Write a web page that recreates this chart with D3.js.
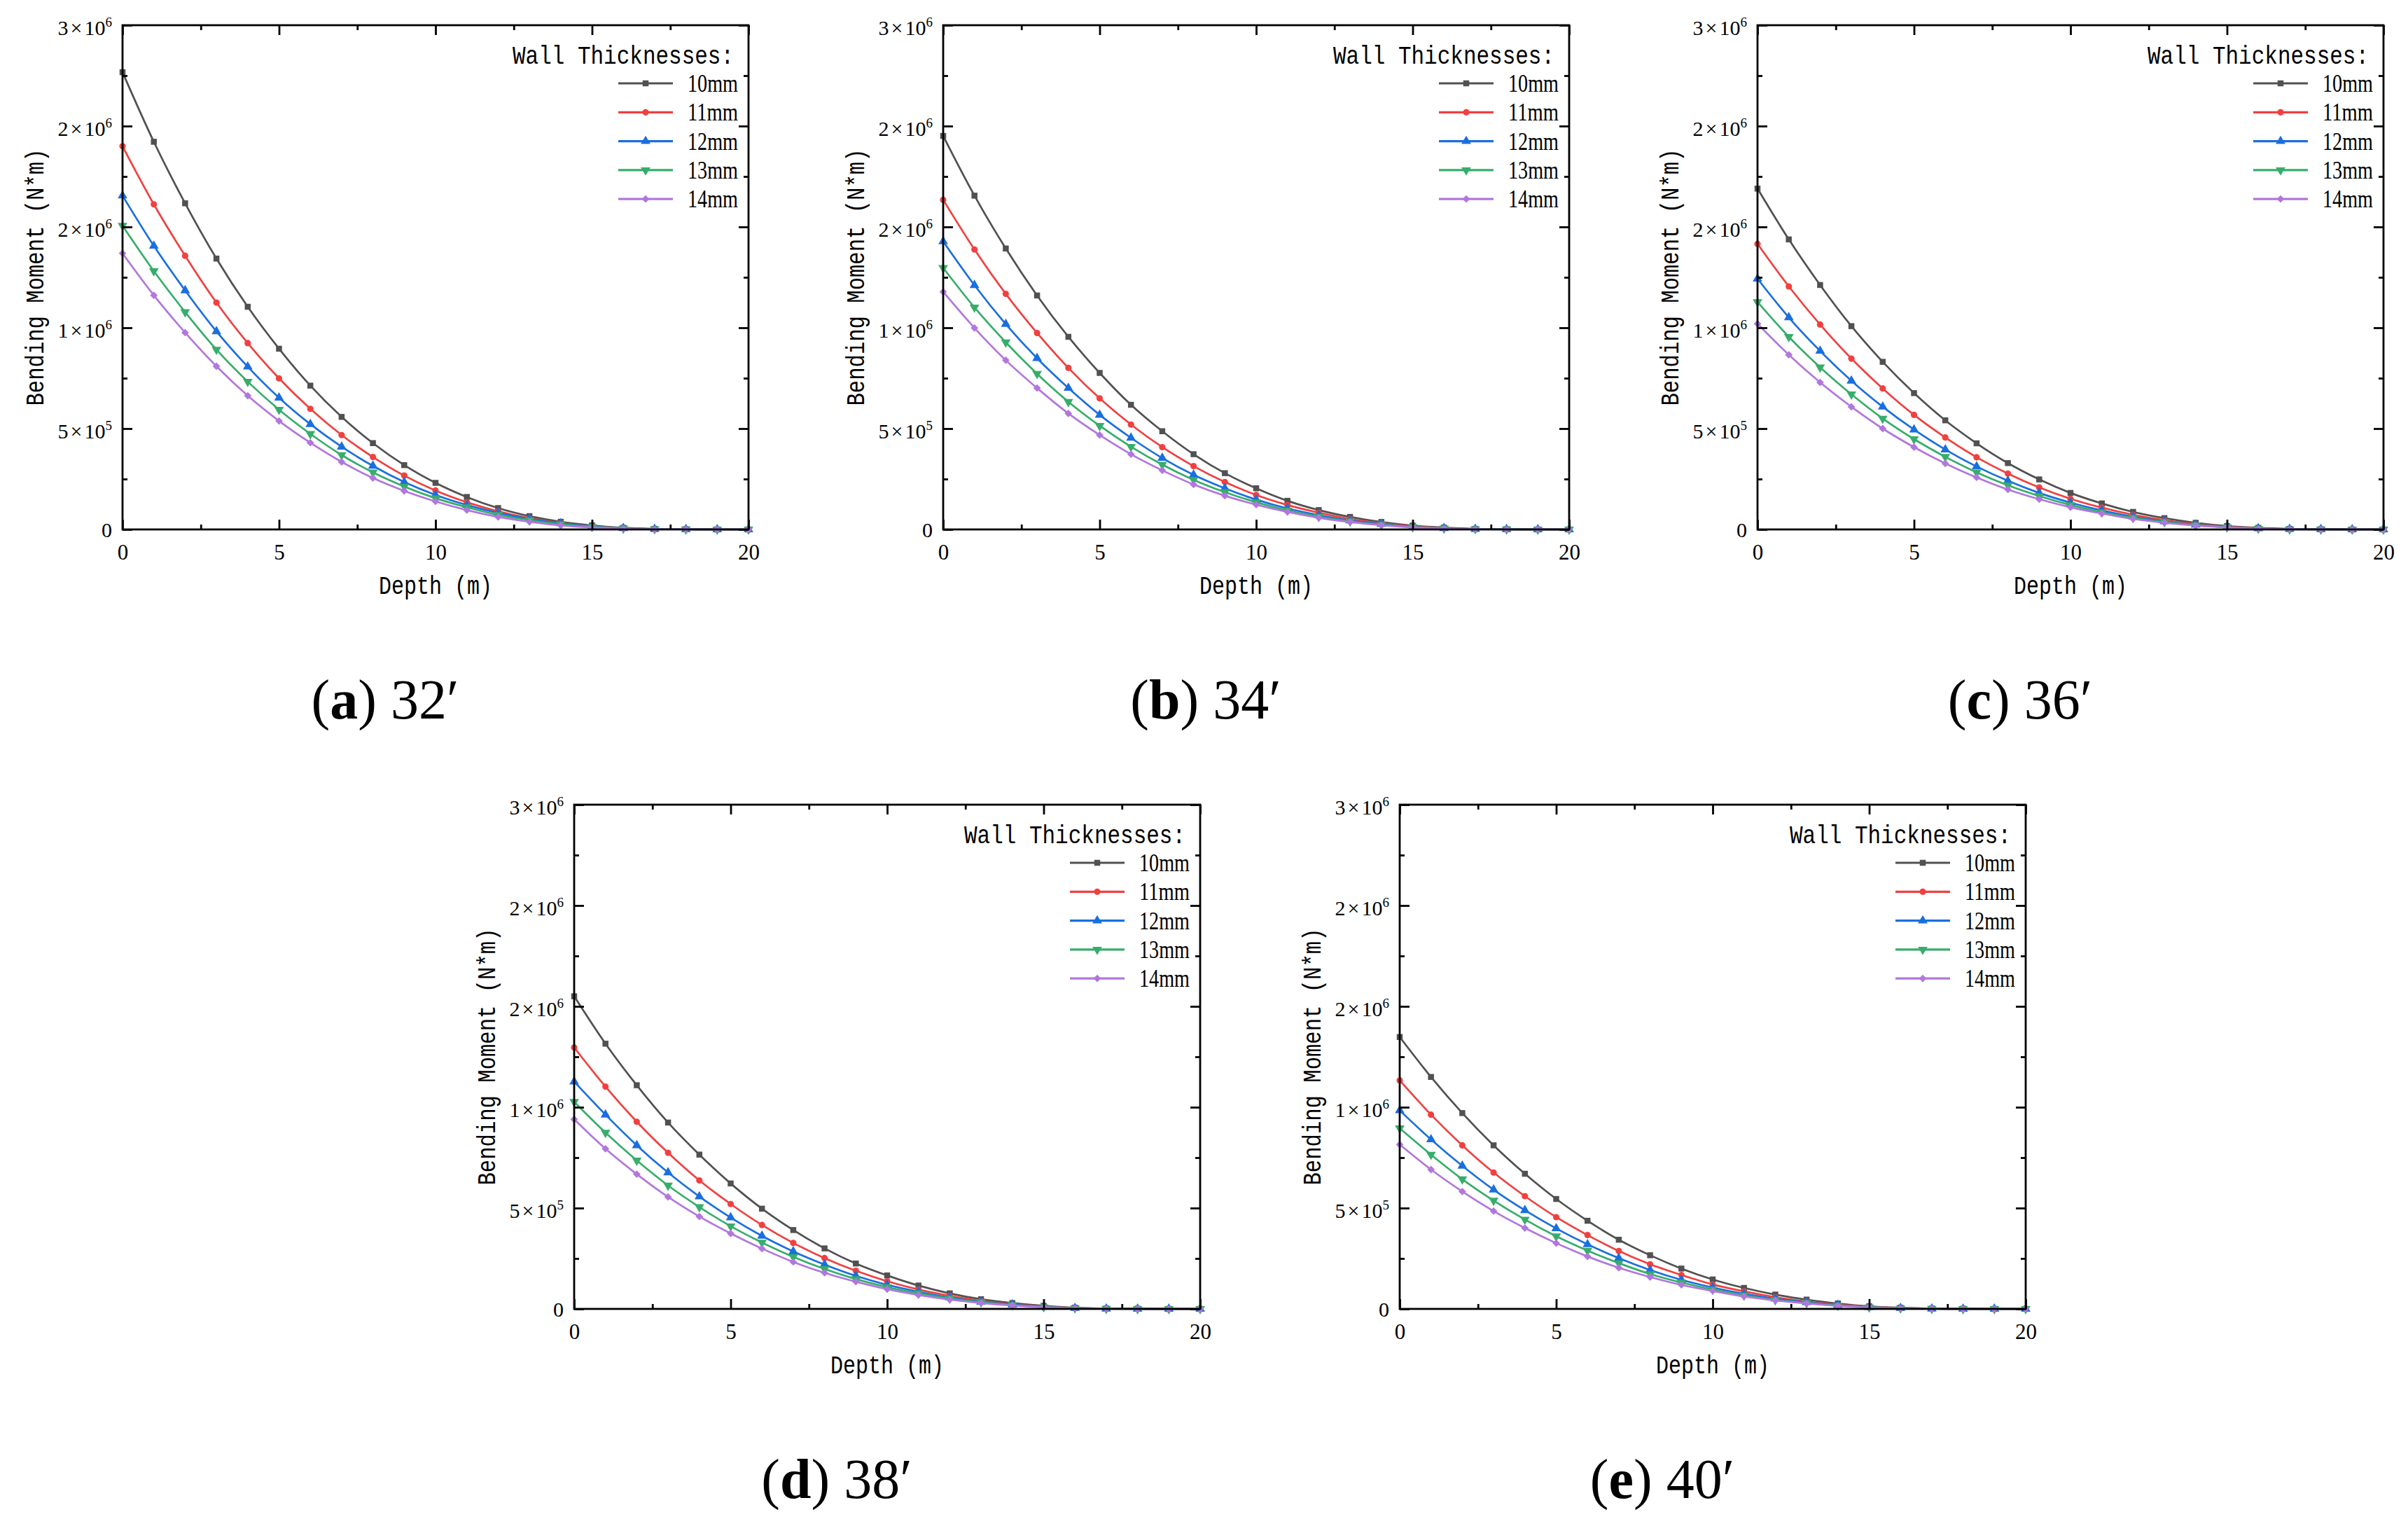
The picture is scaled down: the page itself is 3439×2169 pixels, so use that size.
<!DOCTYPE html>
<meta charset="utf-8">
<script src="https://cdn.jsdelivr.net/npm/d3@7"></script>
<style>
body { margin: 0; background: #fff; }
.mono { font-family: "Liberation Mono", monospace; }
.serif { font-family: "Liberation Serif", serif; }
</style>
<body>
<script>

var W = 3439, H = 2169;
var PW = 894, PH = 720;

// depth along pile (m)
var depths = [0,1,2,3,4,5,6,7,8,9,10,11,12,13,14,15,16,17,18,19,20];

var thickness = ["10mm", "11mm", "12mm", "13mm", "14mm"];
var colors = ["#515151", "#F14040", "#1A6FDF", "#37AD6B", "#B177DE"];

// bending moment, in units of 10^6 N*m, one row per wall thickness
var m32 = [
  [2.267,1.922,1.617,1.343,1.104,0.896,0.713,0.558,0.428,0.319,0.231,0.161,0.106,0.066,0.038,0.020,0.008,0.003,0.001,0,0],
  [1.900,1.612,1.357,1.125,0.924,0.749,0.598,0.468,0.359,0.267,0.193,0.135,0.090,0.056,0.032,0.016,0.007,0.002,0.001,0,0],
  [1.655,1.406,1.185,0.982,0.807,0.653,0.522,0.410,0.315,0.235,0.171,0.121,0.082,0.052,0.030,0.015,0.006,0.002,0.001,0,0],
  [1.506,1.281,1.078,0.892,0.733,0.594,0.474,0.369,0.283,0.213,0.155,0.110,0.072,0.046,0.026,0.013,0.005,0.002,0.001,0,0],
  [1.369,1.161,0.976,0.809,0.663,0.538,0.430,0.335,0.255,0.191,0.139,0.096,0.062,0.038,0.020,0.010,0.004,0.001,0.001,0,0]
];
var m34 = [
  [1.951,1.655,1.393,1.160,0.955,0.776,0.618,0.487,0.373,0.279,0.204,0.142,0.096,0.062,0.037,0.019,0.009,0.003,0.001,0,0],
  [1.634,1.388,1.168,0.974,0.801,0.650,0.520,0.408,0.314,0.235,0.171,0.121,0.083,0.052,0.031,0.016,0.007,0.002,0.001,0,0],
  [1.428,1.211,1.018,0.849,0.701,0.568,0.454,0.354,0.271,0.204,0.148,0.104,0.071,0.044,0.027,0.013,0.006,0.002,0.001,0,0],
  [1.297,1.101,0.928,0.772,0.633,0.514,0.410,0.321,0.246,0.185,0.135,0.094,0.063,0.040,0.023,0.012,0.005,0.002,0.001,0,0],
  [1.178,0.999,0.839,0.701,0.575,0.468,0.373,0.293,0.223,0.167,0.123,0.087,0.058,0.037,0.021,0.010,0.004,0.001,0,0,0]
];
var m36 = [
  [1.690,1.438,1.212,1.008,0.831,0.676,0.541,0.427,0.329,0.248,0.181,0.129,0.087,0.056,0.033,0.017,0.008,0.003,0.001,0,0],
  [1.416,1.205,1.016,0.847,0.699,0.568,0.456,0.358,0.277,0.208,0.152,0.108,0.073,0.046,0.027,0.014,0.006,0.002,0.001,0,0],
  [1.243,1.051,0.885,0.737,0.608,0.495,0.396,0.312,0.241,0.181,0.133,0.094,0.063,0.040,0.023,0.012,0.005,0.002,0.001,0,0],
  [1.128,0.955,0.804,0.670,0.550,0.448,0.360,0.283,0.219,0.166,0.121,0.085,0.058,0.037,0.021,0.011,0.004,0.001,0,0,0],
  [1.020,0.866,0.729,0.608,0.500,0.408,0.327,0.258,0.198,0.150,0.110,0.079,0.052,0.033,0.019,0.010,0.004,0.001,0,0,0]
];
var m38 = [
  [1.550,1.315,1.109,0.924,0.765,0.622,0.497,0.391,0.300,0.225,0.166,0.116,0.077,0.048,0.029,0.015,0.006,0.002,0.001,0,0],
  [1.296,1.102,0.928,0.774,0.637,0.520,0.416,0.327,0.252,0.189,0.137,0.096,0.065,0.040,0.023,0.012,0.005,0.002,0.001,0,0],
  [1.127,0.963,0.811,0.676,0.557,0.453,0.362,0.285,0.220,0.164,0.119,0.085,0.056,0.035,0.021,0.010,0.004,0.001,0,0,0],
  [1.027,0.874,0.736,0.612,0.505,0.410,0.329,0.258,0.198,0.148,0.108,0.077,0.052,0.033,0.019,0.009,0.004,0.001,0,0,0],
  [0.940,0.794,0.668,0.555,0.458,0.374,0.299,0.233,0.179,0.135,0.098,0.069,0.046,0.029,0.017,0.008,0.003,0.001,0,0,0]
];
var m40 = [
  [1.348,1.150,0.971,0.811,0.670,0.545,0.437,0.343,0.266,0.200,0.146,0.104,0.071,0.046,0.027,0.013,0.006,0.002,0.001,0,0],
  [1.133,0.963,0.811,0.676,0.559,0.455,0.366,0.287,0.221,0.168,0.121,0.087,0.058,0.037,0.021,0.011,0.005,0.002,0,0,0],
  [0.984,0.840,0.709,0.591,0.489,0.399,0.320,0.252,0.193,0.144,0.106,0.075,0.050,0.033,0.019,0.009,0.004,0.001,0,0,0],
  [0.896,0.765,0.643,0.537,0.443,0.360,0.289,0.227,0.173,0.131,0.096,0.067,0.044,0.029,0.016,0.008,0.003,0.001,0,0,0],
  [0.815,0.691,0.582,0.485,0.401,0.326,0.260,0.204,0.158,0.119,0.089,0.062,0.042,0.027,0.015,0.007,0.003,0.001,0,0,0]
];

// axis ticks and the labels as printed (Origin rounds 1.5 and 2.5 x10^6)
var xTicks = [0, 5, 10, 15, 20];
var xMinor = [2.5, 7.5, 12.5, 17.5];
var yTicks = [0, 0.5, 1.0, 1.5, 2.0, 2.5];
var yMinor = [0.25, 0.75, 1.25, 1.75, 2.25];
var yTickMant = ["0", "5", "1", "2", "2", "3"];
var yTickExp  = ["",  "5", "6", "6", "6", "6"];

var panels = [
  {letter: "a", angle: "32", data: m32, left: 175,  top: 36},
  {letter: "b", angle: "34", data: m34, left: 1347, top: 36},
  {letter: "c", angle: "36", data: m36, left: 2510, top: 36},
  {letter: "d", angle: "38", data: m38, left: 820,  top: 1149},
  {letter: "e", angle: "40", data: m40, left: 1999, top: 1149}
];

var symbols = [
  {type: d3.symbolSquare, size: 72, rot: 0},
  {type: d3.symbolCircle, size: 66, rot: 0},
  {type: d3.symbolTriangle, size: 82, rot: 0},
  {type: d3.symbolTriangle, size: 82, rot: 180},
  {type: d3.symbolSquare, size: 58, rot: 45}
];

var svg = d3.select("body").append("svg")
    .attr("width", W)
    .attr("height", H);

svg.append("rect").attr("width", W).attr("height", H).attr("fill", "#fff");

function styleAxis(sel) {
  sel.select(".domain").remove();
  sel.selectAll("line").attr("stroke", "#000").attr("stroke-width", 2.8);
}

panels.forEach(function(p) {
  var g = svg.append("g").attr("transform", "translate(" + p.left + "," + p.top + ")");

  var x = d3.scaleLinear().domain([0, 20]).range([0, PW]);
  var y = d3.scaleLinear().domain([0, 2.5]).range([PH, 0]);

  var line = d3.line()
      .x(function(d) { return x(d[0]); })
      .y(function(d) { return y(d[1]); })
      .curve(d3.curveMonotoneX);

  p.data.forEach(function(vals, i) {
    var pts = depths.map(function(d, j) { return [d, vals[j]]; });
    g.append("path")
        .datum(pts)
        .attr("d", line)
        .attr("fill", "none")
        .attr("stroke", colors[i])
        .attr("stroke-width", 2.7);
    g.selectAll(null)
        .data(pts)
      .enter().append("path")
        .attr("d", d3.symbol().type(symbols[i].type).size(symbols[i].size))
        .attr("transform", function(d) {
          return "translate(" + x(d[0]) + "," + y(d[1]) + ") rotate(" + symbols[i].rot + ")";
        })
        .attr("fill", colors[i]);
  });

  // ticks on all four sides, pointing inward
  g.append("g").attr("transform", "translate(0," + PH + ")")
      .call(d3.axisBottom(x).tickValues(xTicks).tickSizeInner(-14).tickSizeOuter(0).tickPadding(21))
      .call(styleAxis)
      .selectAll("text")
        .attr("class", "serif")
        .attr("font-size", 31)
        .attr("fill", "#000");
  g.append("g").attr("transform", "translate(0," + PH + ")")
      .call(d3.axisBottom(x).tickValues(xMinor).tickSizeInner(-7).tickSizeOuter(0).tickFormat(""))
      .call(styleAxis);
  g.append("g")
      .call(d3.axisTop(x).tickValues(xTicks).tickSizeInner(-14).tickSizeOuter(0).tickFormat(""))
      .call(styleAxis);
  g.append("g")
      .call(d3.axisTop(x).tickValues(xMinor).tickSizeInner(-7).tickSizeOuter(0).tickFormat(""))
      .call(styleAxis);
  g.append("g")
      .call(d3.axisLeft(y).tickValues(yTicks).tickSizeInner(-14).tickSizeOuter(0).tickFormat(""))
      .call(styleAxis);
  g.append("g")
      .call(d3.axisLeft(y).tickValues(yMinor).tickSizeInner(-7).tickSizeOuter(0).tickFormat(""))
      .call(styleAxis);
  g.append("g").attr("transform", "translate(" + PW + ",0)")
      .call(d3.axisRight(y).tickValues(yTicks).tickSizeInner(-14).tickSizeOuter(0).tickFormat(""))
      .call(styleAxis);
  g.append("g").attr("transform", "translate(" + PW + ",0)")
      .call(d3.axisRight(y).tickValues(yMinor).tickSizeInner(-7).tickSizeOuter(0).tickFormat(""))
      .call(styleAxis);

  g.append("rect")
      .attr("width", PW)
      .attr("height", PH)
      .attr("fill", "none")
      .attr("stroke", "#000")
      .attr("stroke-width", 2.8);

  // y tick labels like 3x10^6
  yTicks.forEach(function(v, k) {
    var t = g.append("text")
        .attr("class", "serif")
        .attr("text-anchor", "end")
        .attr("x", -15)
        .attr("y", y(v) + (k === 0 ? 11 : 14))
        .attr("font-size", 30)
        .attr("fill", "#000");
    if (yTickExp[k] === "") {
      t.text(yTickMant[k]);
    } else {
      t.append("tspan").text(yTickMant[k]);
      t.append("tspan").attr("dx", 3).text("\u00d7");
      t.append("tspan").attr("dx", 3).text("10");
      t.append("tspan").attr("font-size", 19).attr("dy", -12).text(yTickExp[k]);
    }
  });

  // axis titles
  g.append("text")
      .attr("class", "mono")
      .attr("x", PW / 2)
      .attr("y", PH + 92)
      .attr("text-anchor", "middle")
      .attr("font-size", 37)
      .attr("textLength", 162)
      .attr("lengthAdjust", "spacingAndGlyphs")
      .text("Depth (m)");
  g.append("text")
      .attr("class", "mono")
      .attr("transform", "translate(-113," + (PH / 2) + ") rotate(-90)")
      .attr("text-anchor", "middle")
      .attr("font-size", 37)
      .attr("textLength", 367)
      .attr("lengthAdjust", "spacingAndGlyphs")
      .text("Bending Moment (N*m)");

  // legend
  var lg = g.append("g");
  lg.append("text")
      .attr("class", "mono")
      .attr("x", PW - 21)
      .attr("y", 55)
      .attr("text-anchor", "end")
      .attr("font-size", 37)
      .attr("textLength", 316)
      .attr("lengthAdjust", "spacingAndGlyphs")
      .text("Wall Thicknesses:");
  thickness.forEach(function(name, i) {
    var cy = 83 + i * 41.3;
    lg.append("line")
        .attr("x1", PW - 186).attr("x2", PW - 108)
        .attr("y1", cy).attr("y2", cy)
        .attr("stroke", colors[i])
        .attr("stroke-width", 3.2);
    lg.append("path")
        .attr("d", d3.symbol().type(symbols[i].type).size(symbols[i].size))
        .attr("transform", "translate(" + (PW - 147) + "," + cy + ") rotate(" + symbols[i].rot + ")")
        .attr("fill", colors[i]);
    lg.append("text")
        .attr("class", "serif")
        .attr("x", PW - 87)
        .attr("y", cy + 12)
        .attr("font-size", 36)
        .attr("textLength", 72)
        .attr("lengthAdjust", "spacingAndGlyphs")
        .text(name);
  });

  // sub-figure caption
  var cap = g.append("text")
      .attr("class", "serif")
      .attr("x", PW / 2 - 72)
      .attr("y", 990)
      .attr("text-anchor", "middle")
      .attr("font-size", 80)
      .attr("fill", "#000");
  cap.append("tspan").text("(");
  cap.append("tspan").attr("font-weight", "bold").text(p.letter);
  cap.append("tspan").text(") " + p.angle + "\u2032");
});

</script>
</body>
